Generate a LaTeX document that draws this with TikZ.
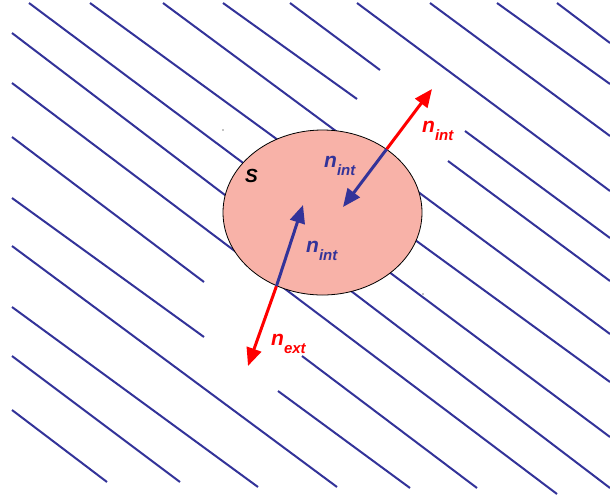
\documentclass[tikz,border=0pt]{standalone}
\usepackage{fontspec}
\setmainfont{Liberation Sans}
\usetikzlibrary{arrows.meta,shapes.geometric}
\definecolor{hatch}{RGB}{51,51,153}
\definecolor{salmon}{RGB}{248,178,168}
\definecolor{vred}{RGB}{255,0,0}
\newcommand\mysub[2]{#1\raisebox{-8pt}{\fontsize{15}{15}\selectfont #2}}
\begin{document}
\begin{tikzpicture}[x=1pt,y=-1pt,
  hatchline/.style={draw=hatch,line width=2pt},
  redarrow/.style={draw=vred,line width=3pt,-{Triangle[length=18pt,width=15pt]}},
  bluearrow/.style={draw=hatch,line width=3pt,-{Triangle[length=18pt,width=15pt]}},
  lab/.style={inner sep=0pt,anchor=base west,font=\bfseries\itshape\fontsize{21}{21}\selectfont}]
\useasboundingbox (0,0) rectangle (610,499);
% hatching
\draw[hatchline] (29,3) -- (610,437);
\draw[hatchline] (90,3) -- (610,382);
\draw[hatchline] (163,3) -- (610,334);
\draw[hatchline] (223,3) -- (357,99);
\draw[hatchline] (448,161) -- (610,281);
\draw[hatchline] (290,3) -- (380,70);
\draw[hatchline] (465,131) -- (610,238);
\draw[hatchline] (357,3) -- (610,191);
\draw[hatchline] (430,3) -- (610,136);
\draw[hatchline] (497,3) -- (610,84);
\draw[hatchline] (557,3) -- (610,43);
\draw[hatchline] (12,33) -- (610,488);
\draw[hatchline] (12,83) -- (557,494);
\draw[hatchline] (12,137) -- (204,282);
\draw[hatchline] (302,356) -- (477,488);
\draw[hatchline] (12,198) -- (204,337);
\draw[hatchline] (278,391) -- (410,488);
\draw[hatchline] (12,246) -- (337,487);
\draw[hatchline] (12,307) -- (258,487);
\draw[hatchline] (12,356) -- (180,482);
\draw[hatchline] (12,410) -- (107,482);
\fill (223,130) circle (0.6pt);
\fill (423,294) circle (0.6pt);
% region
\node[ellipse,draw=black,line width=0.8pt,fill=salmon,inner sep=0pt,
  minimum width=199pt,minimum height=165pt] (region) at (322.5,212.5) {};
% arrows
\coordinate (up) at (386.6,149.2);
\coordinate (uptip) at (432,89);
\coordinate (upin) at (343,207);
\coordinate (lo) at (276.5,286);
\coordinate (lotip) at (248,366);
\coordinate (loin) at (303,205);
\draw[redarrow] (up) -- (uptip);
\draw[bluearrow] (up) -- (upin);
\draw[redarrow] (lo) -- (lotip);
\draw[bluearrow] (lo) -- (loin);
% labels
\node[lab,font=\bfseries\itshape\fontsize{19}{19}\selectfont] (s) at (245,182) {S};
\node[lab,text=hatch] (nin1) at (324,167) {\mysub{n}{int}};
\node[lab,text=hatch] (nin2) at (306,252) {\mysub{n}{int}};
\node[lab,text=vred] (nout1) at (422,132) {\mysub{n}{int}};
\node[lab,text=vred] (next) at (271,345) {\mysub{n}{ext}};
\end{tikzpicture}
\end{document}
